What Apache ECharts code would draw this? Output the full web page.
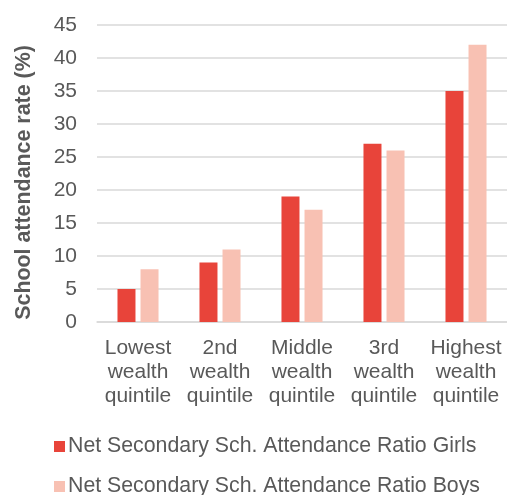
<!DOCTYPE html>
<html><head><meta charset="utf-8">
<script src="https://cdn.jsdelivr.net/npm/echarts@6/dist/echarts.min.js"></script>
<style>html,body{margin:0;padding:0;background:#fff}#c{width:507px;height:495px}</style>
</head><body><div id="c"></div>
<script>
const categories = ['Lowest\nwealth\nquintile','2nd\nwealth\nquintile','Middle\nwealth\nquintile','3rd\nwealth\nquintile','Highest\nwealth\nquintile'];
const girls = [5, 9, 19, 27, 35];
const boys = [8, 11, 17, 26, 42];
const seriesNames = ['Net Secondary Sch. Attendance Ratio Girls','Net Secondary Sch. Attendance Ratio Boys'];
const chart = echarts.init(document.getElementById('c'));
const font = 'Liberation Sans, Arial, sans-serif';
const legendText = {fontSize: 21.3, color: '#595959', fontFamily: font, padding: [0,0,0,-2]};
chart.setOption({
  animation: false,
  textStyle: {fontFamily: font},
  grid: {left: 97, right: 0, top: 25, bottom: 173, containLabel: false, outerBoundsMode: 'none'},
  legend: [
    {left: 49, top: 431, itemWidth: 11, itemHeight: 11, icon: 'rect', textStyle: legendText, data: [seriesNames[0]]},
    {left: 49, top: 471, itemWidth: 11, itemHeight: 11, icon: 'rect', textStyle: legendText, data: [seriesNames[1]]}
  ],
  xAxis: {
    type: 'category', data: categories,
    axisLine: {lineStyle: {color: '#d9d9d9', width: 1.5}},
    axisTick: {show: false},
    axisLabel: {fontSize: 21, color: '#595959', lineHeight: 24, margin: 14, interval: 0, fontFamily: font}
  },
  yAxis: {
    type: 'value', min: 0, max: 45, interval: 5,
    name: 'School attendance rate (%)', nameLocation: 'middle', nameGap: 62,
    nameTextStyle: {fontSize: 21.4, fontWeight: 'bold', color: '#595959', fontFamily: font, padding: [0, 18, 0, 0]},
    axisLine: {show: false}, axisTick: {show: false},
    axisLabel: {fontSize: 21, color: '#595959', margin: 20, fontFamily: font},
    splitLine: {lineStyle: {color: '#d9d9d9', width: 1.5}}
  },
  series: [
    {name: seriesNames[0], type: 'bar', data: girls, barWidth: 18, barGap: '28%', itemStyle: {color: '#E8443A'}},
    {name: seriesNames[1], type: 'bar', data: boys, barWidth: 18, barGap: '28%', itemStyle: {color: '#F8C1B3'}}
  ]
});
</script></body></html>
